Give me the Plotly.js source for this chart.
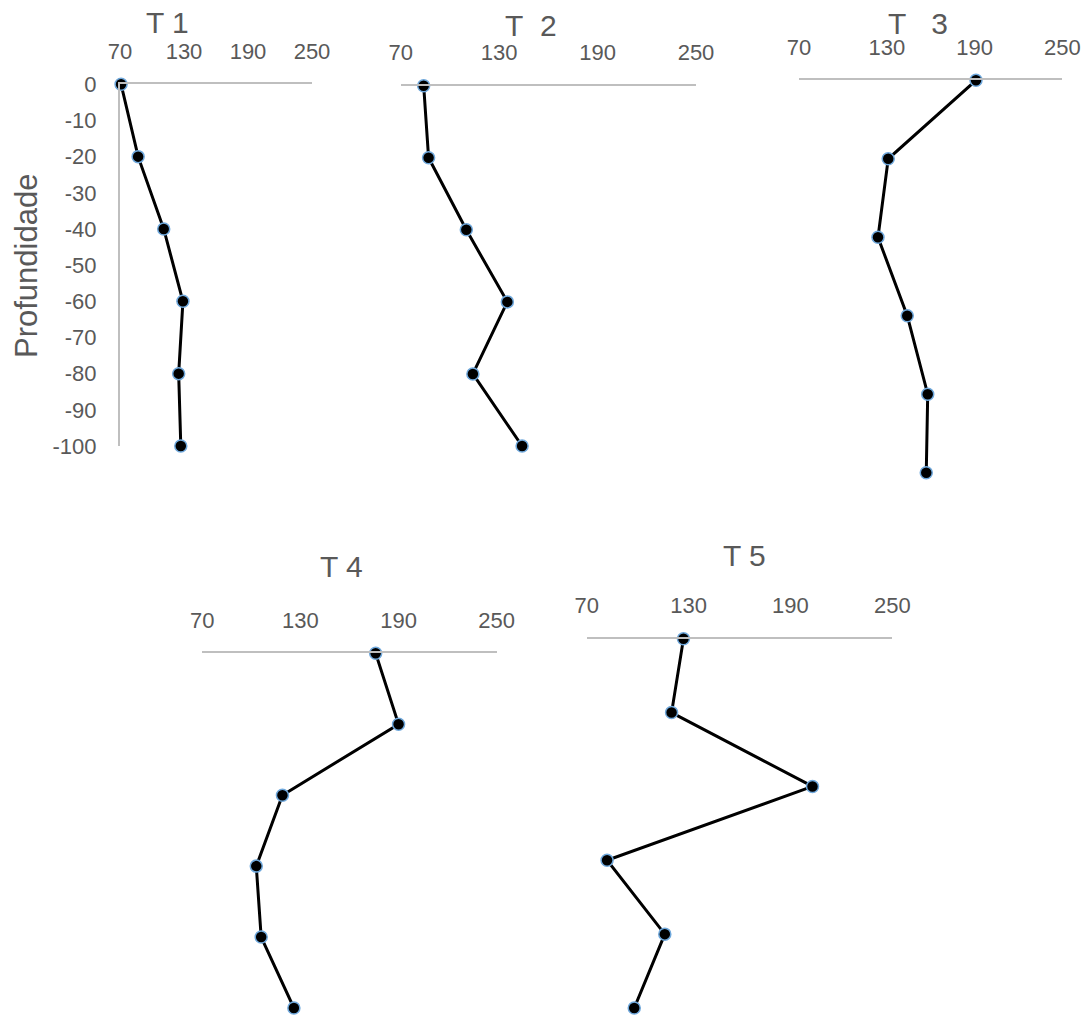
<!DOCTYPE html>
<html>
<head>
<meta charset="utf-8">
<script src="https://cdn.plot.ly/plotly-3.0.1.min.js"></script>
<style>html,body{margin:0;padding:0;background:#fff;}#chart{width:1086px;height:1016px;}</style>
</head>
<body>
<div id="chart"></div>
<script>
// ---- data ----
const depth = [0, -20, -40, -60, -80, -100];
const t1 = [71, 87, 111, 129, 125, 127];
const t2 = [84, 87, 110, 135, 114, 144];
const t3 = [191, 131, 124, 144, 158, 157];
const t4 = [176, 190, 119, 103, 106, 126];
const t5 = [127, 120, 203, 82, 116, 98];
const panelTitles = ['T 1', 'T\u00a0\u00a02', 'T\u00a0\u00a0\u00a03', 'T 4', 'T 5'];
const xTicks = [70, 130, 190, 250];
const yTicks = [0, -10, -20, -30, -40, -50, -60, -70, -80, -90, -100];
const yAxisTitle = 'Profundidade';

// ---- layout geometry (pixels) ----
const W = 1086, H = 1016;
const boxes = [
  {x0: 120, x1: 312, y0: 84.3, y1: 446},
  {x0: 400.7, x1: 696, y0: 85.7, y1: 446},
  {x0: 799, x1: 1062.3, y0: 80.3, y1: 472.7},
  {x0: 202.3, x1: 496.7, y0: 653.3, y1: 1008},
  {x0: 586.7, x1: 892.3, y0: 638.7, y1: 1008}
];
const titlePos = [[167, 23], [531, 26], [918, 24], [342, 566], [744, 555]];
const series = [t1, t2, t3, t4, t5];

const FONT = 'Liberation Sans, Arial, sans-serif';
const GREY = '#595959';
const LINE = '#bfbfbf';

const data = [];
const layout = {
  width: W, height: H,
  margin: {l: 0, r: 0, t: 0, b: 0},
  paper_bgcolor: '#fff', plot_bgcolor: 'rgba(0,0,0,0)',
  showlegend: false,
  font: {family: FONT, color: GREY},
  annotations: []
};

series.forEach((vals, i) => {
  const n = i + 1;
  const xa = n === 1 ? 'x' : 'x' + n;
  const ya = n === 1 ? 'y' : 'y' + n;
  data.push({
    type: 'scatter', mode: 'lines+markers',
    x: vals, y: depth, xaxis: xa, yaxis: ya,
    cliponaxis: false,
    line: {color: '#000', width: 3},
    marker: {color: '#000', size: 12, line: {color: '#6fa8dc', width: 1.5}},
    hoverinfo: 'x+y'
  });
  const b = boxes[i];
  layout['xaxis' + (n === 1 ? '' : n)] = {
    domain: [b.x0 / W, b.x1 / W], anchor: ya, side: 'top',
    range: [70, 250], tickvals: xTicks, ticktext: xTicks.map(String),
    showgrid: false, zeroline: false, showline: true, linecolor: LINE, linewidth: 2,
    ticks: '', ticklabelstandoff: 15,
    tickfont: {family: FONT, size: 22, color: GREY}, fixedrange: true
  };
  layout['yaxis' + (n === 1 ? '' : n)] = {
    domain: [1 - b.y1 / H, 1 - b.y0 / H], anchor: xa,
    range: [-100, 0], tickvals: yTicks, ticktext: yTicks.map(String),
    showgrid: false, zeroline: false,
    showline: n === 1, linecolor: LINE, linewidth: 2,
    showticklabels: n === 1, ticks: '', ticklabelstandoff: 17,
    tickfont: {family: FONT, size: 22, color: GREY}, fixedrange: true
  };
  layout.annotations.push({
    text: panelTitles[i], xref: 'paper', yref: 'paper',
    x: titlePos[i][0] / W, y: 1 - titlePos[i][1] / H,
    xanchor: 'center', yanchor: 'middle', showarrow: false,
    font: {family: FONT, size: 30, color: GREY}
  });
});

layout.annotations.push({
  text: yAxisTitle, xref: 'paper', yref: 'paper',
  x: 26 / W, y: 1 - 266 / H, xanchor: 'center', yanchor: 'middle',
  textangle: -90, showarrow: false,
  font: {family: FONT, size: 31, color: GREY}
});

Plotly.newPlot('chart', data, layout, {displayModeBar: false, staticPlot: true});
</script>
</body>
</html>
